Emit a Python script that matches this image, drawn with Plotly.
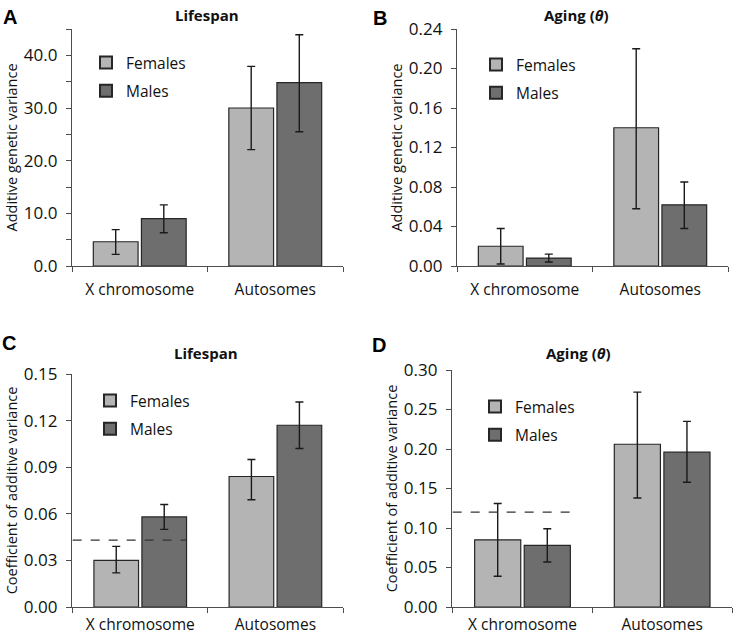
import plotly.graph_objects as go

W, H = 740, 637

categories = ["X chromosome", "Autosomes"]
series_names = ["Females", "Males"]

# Panel A: Lifespan, additive genetic variance
A_fem = [4.6, 30.0]
A_fem_lo = [2.2, 22.1]
A_fem_hi = [6.9, 37.9]
A_mal = [9.0, 34.8]
A_mal_lo = [6.3, 25.5]
A_mal_hi = [11.6, 43.9]

# Panel B: Aging (theta), additive genetic variance
B_fem = [0.020, 0.140]
B_fem_lo = [0.002, 0.058]
B_fem_hi = [0.038, 0.220]
B_mal = [0.008, 0.062]
B_mal_lo = [0.004, 0.038]
B_mal_hi = [0.012, 0.085]

# Panel C: Lifespan, coefficient of additive variance
C_fem = [0.030, 0.084]
C_fem_lo = [0.022, 0.069]
C_fem_hi = [0.039, 0.095]
C_mal = [0.058, 0.117]
C_mal_lo = [0.050, 0.102]
C_mal_hi = [0.066, 0.132]
C_ref = 0.043

# Panel D: Aging (theta), coefficient of additive variance
D_fem = [0.085, 0.206]
D_fem_lo = [0.039, 0.138]
D_fem_hi = [0.131, 0.272]
D_mal = [0.078, 0.196]
D_mal_lo = [0.057, 0.158]
D_mal_hi = [0.099, 0.235]
D_ref = 0.12

FEM_COLOR = "#b4b4b4"
MAL_COLOR = "#6e6e6e"
OUTLINE = "#262626"
FONT = "Open Sans"

def px_x(p):
    return p / W

def px_y(p):
    return 1 - p / H

panels = [
    dict(key="", data=(A_fem, A_fem_lo, A_fem_hi, A_mal, A_mal_lo, A_mal_hi),
         xdom=(72, 343), ydom=(29, 266), yrange=[0, 45], dtick=10, minor=5, fmt=".1f",
         ytitle="Additive genetic variance", title="<b>Lifespan</b>", title_x=207, title_y=15,
         letter="A", letter_xy=(10, 17), legend_xy=(86, 46), ref=None, xstand=9),
    dict(key="2", data=(B_fem, B_fem_lo, B_fem_hi, B_mal, B_mal_lo, B_mal_hi),
         xdom=(457, 728), ydom=(29, 266), yrange=[0, 0.24], dtick=0.04, minor=None, fmt=".2f",
         ytitle="Additive genetic variance", title="<b>Aging (<i>θ</i>)</b>", title_x=576, title_y=15,
         letter="B", letter_xy=(380, 18), legend_xy=(476, 48), ref=None, xstand=9),
    dict(key="3", data=(C_fem, C_fem_lo, C_fem_hi, C_mal, C_mal_lo, C_mal_hi),
         xdom=(72, 343), ydom=(374, 607), yrange=[0, 0.15], dtick=0.03, minor=None, fmt=".2f",
         ytitle="Coefficient of additive variance", title="<b>Lifespan</b>", title_x=206, title_y=353,
         letter="C", letter_xy=(9, 343), legend_xy=(90, 384), ref=C_ref, xstand=3),
    dict(key="4", data=(D_fem, D_fem_lo, D_fem_hi, D_mal, D_mal_lo, D_mal_hi),
         xdom=(452, 732), ydom=(370, 607), yrange=[0, 0.30], dtick=0.05, minor=None, fmt=".2f",
         ytitle="Coefficient of additive variance", title="<b>Aging (<i>θ</i>)</b>", title_x=578, title_y=353,
         letter="D", letter_xy=(379, 345), legend_xy=(475, 390), ref=D_ref, xstand=3),
]

fig = go.Figure()
annotations = []
shapes = []
layout = {}

for i, p in enumerate(panels):
    k = p["key"]
    xa = "x" + k
    ya = "y" + k
    leg = "legend" + (k if k else "")
    fem, flo, fhi, mal, mlo, mhi = p["data"]
    for name, vals, lo, hi, col in [("Females", fem, flo, fhi, FEM_COLOR),
                                     ("Males", mal, mlo, mhi, MAL_COLOR)]:
        fig.add_trace(go.Bar(
            x=categories, y=vals, name=name, xaxis=xa, yaxis=ya, legend=leg,
            legendgroup=name + k,
            marker=dict(color=col, line=dict(color=OUTLINE, width=1.2)),
            error_y=dict(type="data", symmetric=False,
                         array=[h - v for h, v in zip(hi, vals)],
                         arrayminus=[v - l for l, v in zip(lo, vals)],
                         color="#1a1a1a", thickness=1.4, width=4),
        ))
    xkey = "xaxis" + k
    ykey = "yaxis" + k
    layout[xkey] = dict(
        domain=[px_x(p["xdom"][0]), px_x(p["xdom"][1])], anchor=ya,
        showline=True, linecolor="#4d4d4d", linewidth=1.2,
        ticks="outside", tickson="boundaries", ticklen=5, tickcolor="#4d4d4d",
        ticklabelstandoff=p["xstand"],
        tickfont=dict(family=FONT, size=15.5, color="#111"),
        showgrid=False, zeroline=False, fixedrange=True, automargin=False,
    )
    ydict = dict(
        domain=[px_y(p["ydom"][1]), px_y(p["ydom"][0])], anchor=xa,
        range=p["yrange"], dtick=p["dtick"], tick0=0, tickformat=p["fmt"],
        showline=True, linecolor="#4d4d4d", linewidth=1.2,
        ticks="outside", ticklen=5, tickcolor="#4d4d4d",
        ticklabelstandoff=5,
        tickfont=dict(family=FONT, size=17, color="#111"),
        title=dict(text=p["ytitle"], font=dict(family=FONT, size=14.5, color="#111"), standoff=2),
        showgrid=False, zeroline=False, fixedrange=True, automargin=False,
    )
    if p["minor"]:
        ydict["minor"] = dict(dtick=p["minor"], ticks="outside", ticklen=5, tickcolor="#4d4d4d", showgrid=False)
    layout[ykey] = ydict
    layout[leg] = dict(
        x=px_x(p["legend_xy"][0]), y=px_y(p["legend_xy"][1]), xanchor="left", yanchor="top",
        bgcolor="rgba(0,0,0,0)", font=dict(family=FONT, size=15.5, color="#111"),
        tracegroupgap=5, itemsizing="constant",
    )
    annotations.append(dict(
        text=p["title"], x=px_x(p["title_x"]), y=px_y(p["title_y"]), xref="paper", yref="paper",
        showarrow=False, font=dict(family=FONT, size=15, color="#111"), xanchor="center", yanchor="middle"))
    annotations.append(dict(
        text="<b>" + p["letter"] + "</b>", x=px_x(p["letter_xy"][0]), y=px_y(p["letter_xy"][1]),
        xref="paper", yref="paper", showarrow=False,
        font=dict(family="Liberation Sans", size=20, color="#000"), xanchor="center", yanchor="middle"))
    if p["ref"] is not None:
        shapes.append(dict(type="line", xref=xa, yref=ya, x0=-0.5, x1=0.34,
                           y0=p["ref"], y1=p["ref"],
                           line=dict(color="#333", width=1.3, dash="dash")))

fig.update_layout(
    width=W, height=H, margin=dict(l=0, r=0, t=0, b=0, autoexpand=False),
    paper_bgcolor="white", plot_bgcolor="white",
    barmode="group", bargap=0.29, bargroupgap=0.07,
    annotations=annotations, shapes=shapes, showlegend=True,
    **layout,
)

fig.write_html("out.html", config={"displayModeBar": False},
               post_script="document.body.style.margin='0px';document.body.style.overflow='hidden';")
